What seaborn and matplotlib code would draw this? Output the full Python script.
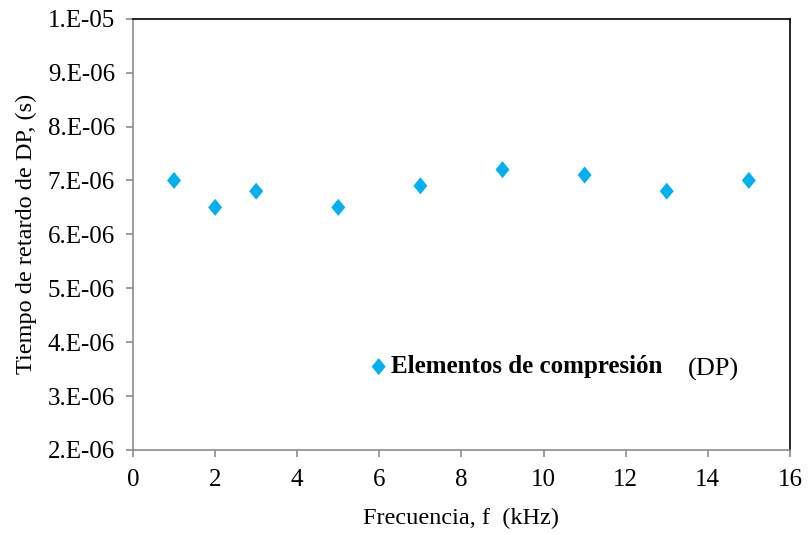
import seaborn as sns
import pandas as pd
import matplotlib.pyplot as plt
from matplotlib.ticker import FuncFormatter, MultipleLocator
from matplotlib.path import Path

freq_khz = [1, 2, 3, 5, 7, 9, 11, 13, 15]
delay_s = [7.0e-6, 6.5e-6, 6.8e-6, 6.5e-6, 6.9e-6, 7.2e-6, 7.1e-6, 6.8e-6, 7.0e-6]

sns.set_style('white', {'text.color': 'black', 'axes.labelcolor': 'black',
                        'xtick.color': 'black', 'ytick.color': 'black'})
plt.rcParams['font.family'] = ['Liberation Serif', 'DejaVu Serif']

df = pd.DataFrame({'f': freq_khz, 't': delay_s})

diamond = Path([(0, 1), (0.82, 0), (0, -1), (-0.82, 0), (0, 1)],
               [Path.MOVETO, Path.LINETO, Path.LINETO, Path.LINETO, Path.CLOSEPOLY])

fig = plt.figure(figsize=(8.08, 5.35), dpi=100)
ax = fig.add_axes([0.1646, 0.159, 0.813, 0.806])

sns.scatterplot(data=df, x='f', y='t', ax=ax, marker=diamond, s=150,
                color='#00B0F0', edgecolor='none', label='Elementos de compresión')

ax.set_xlim(0, 16)
ax.set_ylim(2e-6, 1e-5)
ax.xaxis.set_major_locator(MultipleLocator(2))
ax.yaxis.set_major_locator(MultipleLocator(1e-6))
ax.yaxis.set_major_formatter(FuncFormatter(lambda v, p: '%#.0E' % v))

for s in ['left', 'bottom']:
    ax.spines[s].set_color('#8c8c8c')
for s in ['top', 'right']:
    ax.spines[s].set_color('black')
for s in ax.spines.values():
    s.set_linewidth(1.2)

ax.tick_params(axis='both', direction='out', length=5, width=1.2, color='#8c8c8c',
               labelcolor='black', labelsize=18, left=True, bottom=True)
ax.tick_params(axis='y', pad=8)
ax.tick_params(axis='x', pad=9)

ax.set_xlabel('Frecuencia, f  (kHz)', fontsize=17.5, labelpad=12)
ax.set_ylabel('Tiempo de retardo de DP, (s)', fontsize=17.5, labelpad=8)

leg = ax.legend(loc='center left', bbox_to_anchor=(0.355, 0.193), frameon=False,
                handlelength=1.0, handletextpad=0.0, borderpad=0, borderaxespad=0,
                prop={'weight': 'bold', 'size': 18})
ax.text(0.845, 0.186, '(DP)', transform=ax.transAxes, fontsize=19, va='center', ha='left')

plt.savefig('out.png', dpi=100)
